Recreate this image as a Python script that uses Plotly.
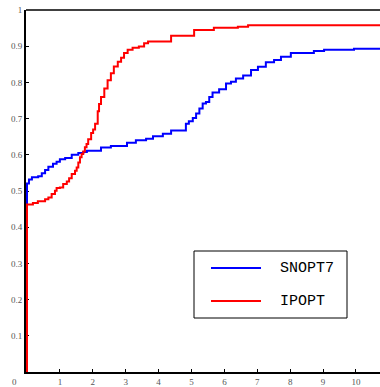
import plotly.graph_objects as go

# SNOPT7 (blue) step curve
snopt_x = [0, 0, 0.06, 0.15, 0.34, 0.45, 0.55, 0.65, 0.79, 0.90, 1.00, 1.16, 1.36, 1.56, 1.71,
           1.82, 2.25, 2.55, 3.04, 3.31, 3.62, 3.83, 4.13, 4.38, 4.83, 4.92, 5.04, 5.14, 5.24,
           5.34, 5.44, 5.54, 5.64, 5.84, 6.05, 6.20, 6.35, 6.57, 6.81, 7.02, 7.26, 7.51, 7.72,
           8.02, 8.72, 9.03, 9.94, 10.8]
snopt_y = [0.46, 0.521, 0.532, 0.538, 0.541, 0.549, 0.558, 0.567, 0.575, 0.581, 0.588, 0.591,
           0.600, 0.605, 0.608, 0.611, 0.620, 0.624, 0.633, 0.640, 0.644, 0.651, 0.658, 0.667,
           0.686, 0.693, 0.702, 0.714, 0.728, 0.742, 0.746, 0.760, 0.772, 0.781, 0.797, 0.802,
           0.811, 0.819, 0.834, 0.843, 0.856, 0.862, 0.871, 0.881, 0.887, 0.890, 0.893, 0.893]

# IPOPT (red) step curve
ipopt_x = [0, 0, 0.18, 0.33, 0.55, 0.65, 0.75, 0.85, 0.90, 1.00, 1.10, 1.21, 1.28, 1.36, 1.46,
           1.51, 1.56, 1.61, 1.66, 1.71, 1.76, 1.81, 1.86, 1.95, 2.01, 2.07, 2.15, 2.19, 2.25,
           2.35, 2.45, 2.55, 2.64, 2.76, 2.86, 2.95, 3.06, 3.21, 3.40, 3.56, 3.68, 4.38, 5.08,
           5.68, 6.41, 6.72, 10.8]
ipopt_y = [0.0, 0.463, 0.467, 0.472, 0.477, 0.482, 0.492, 0.501, 0.508, 0.510, 0.519, 0.526,
           0.535, 0.547, 0.556, 0.565, 0.579, 0.593, 0.602, 0.609, 0.621, 0.630, 0.643, 0.660,
           0.670, 0.686, 0.720, 0.740, 0.760, 0.783, 0.806, 0.825, 0.844, 0.857, 0.868, 0.881,
           0.890, 0.896, 0.899, 0.908, 0.913, 0.929, 0.945, 0.951, 0.954, 0.958, 0.958]

x_ticks = [1, 2, 3, 4, 5, 6, 7, 8, 9, 10]
y_ticks = [0.1, 0.2, 0.3, 0.4, 0.5, 0.6, 0.7, 0.8, 0.9, 1]
y_tick_text = ["0.1", "0.2", "0.3", "0.4", "0.5", "0.6", "0.7", "0.8", "0.9", "1"]
series_names = ["SNOPT7", "IPOPT"]
series_colors = ["#0000ff", "#ff0000"]

W, H = 380, 387
L, R, T, B = 26, 0, 10, 15
PW, PH = W - L - R, H - T - B


def px(x):
    return (x - L) / PW


def py(y):
    return (H - B - y) / PH


fig = go.Figure()
fig.add_trace(go.Scatter(x=snopt_x, y=snopt_y, mode="lines", line_shape="hv",
                         line=dict(color=series_colors[0], width=2), name=series_names[0],
                         showlegend=False))
fig.add_trace(go.Scatter(x=ipopt_x, y=ipopt_y, mode="lines", line_shape="hv",
                         line=dict(color=series_colors[1], width=2), name=series_names[1],
                         showlegend=False))

tickfont = dict(family="Liberation Serif", size=9, color="#555555")

fig.update_layout(
    width=W, height=H,
    margin=dict(l=L, r=R, t=T, b=B, pad=0),
    paper_bgcolor="white", plot_bgcolor="white",
    xaxis=dict(range=[-0.03, 10.73], tickvals=x_ticks, ticks="inside", ticklen=3,
               tickwidth=1, tickcolor="black", showgrid=False, zeroline=False,
               showline=True, linecolor="black", linewidth=2, tickfont=tickfont,
               layer="below traces"),
    yaxis=dict(range=[0, 1.0], tickvals=y_ticks, ticktext=y_tick_text, ticks="inside",
               ticklen=3, tickwidth=1, tickcolor="black", showgrid=False, zeroline=False,
               showline=True, linecolor="black", linewidth=2, tickfont=tickfont,
               layer="below traces"),
)

shapes = []
# top border
shapes.append(dict(type="line", xref="paper", yref="paper", x0=0, x1=1, y0=1, y1=1,
                   line=dict(color="black", width=1.5)))
# legend box
shapes.append(dict(type="rect", xref="paper", yref="paper", x0=px(194), x1=px(347),
                   y0=py(318), y1=py(251), line=dict(color="black", width=1),
                   fillcolor="white", layer="above"))
annotations = []
for i, (nm, col) in enumerate(zip(series_names, series_colors)):
    yy = 268 + 33 * i
    shapes.append(dict(type="line", xref="paper", yref="paper", x0=px(211), x1=px(261),
                       y0=py(yy), y1=py(yy), line=dict(color=col, width=2), layer="above"))
    annotations.append(dict(x=px(278), y=py(yy), xref="paper", yref="paper", text=nm,
                            showarrow=False, xanchor="left", yanchor="middle",
                            font=dict(family="Liberation Mono", size=15, color="black")))
annotations.append(dict(x=px(14), y=py(382), xref="paper", yref="paper", text="0",
                        showarrow=False, xanchor="center", yanchor="middle", font=tickfont))
fig.update_layout(shapes=shapes, annotations=annotations)

fig.write_html("out.html")
